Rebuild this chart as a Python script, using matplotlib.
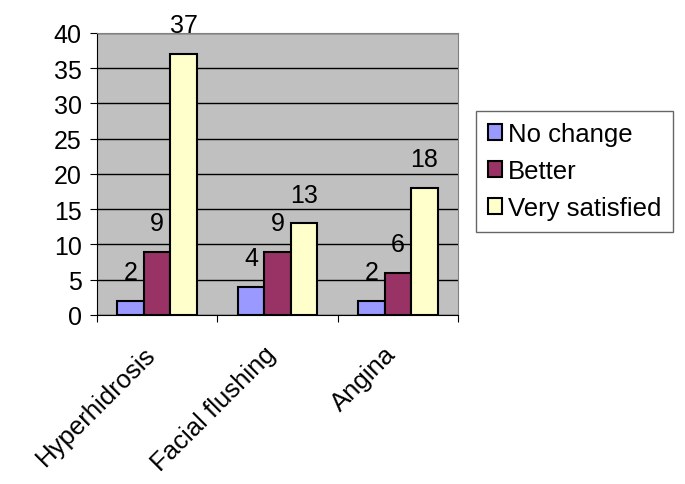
import numpy as np
import matplotlib
matplotlib.use("Agg")
from matplotlib import pyplot as plt
from matplotlib.transforms import ScaledTranslation

plt.rcParams['font.family'] = ['Liberation Sans', 'DejaVu Sans']

categories = ['Hyperhidrosis', 'Facial flushing', 'Angina']
series = ['No change', 'Better', 'Very satisfied']
no_change = [2, 4, 2]
better = [9, 9, 6]
very_satisfied = [37, 13, 18]
colors = ['#9999FF', '#993366', '#FFFFCC']

fig = plt.figure(figsize=(6.85, 4.85), dpi=100)
ax = fig.add_axes([0.1416, 0.3485, 0.527, 0.5814])
ax.set_facecolor('#C0C0C0')

x = np.arange(len(categories))
w = 0.22
for i, (vals, name) in enumerate(zip([no_change, better, very_satisfied], series)):
    pos = x + (i - 1) * w
    bars = ax.bar(pos, vals, w, color=colors[i], edgecolor='black', linewidth=1.5,
                  label=name, zorder=3)
    for b, v in zip(bars, vals):
        ax.annotate(str(v), (b.get_x() + b.get_width() / 2, v),
                    xytext=(0, 12), textcoords='offset points',
                    ha='center', va='bottom', fontsize=18, zorder=4,
                    annotation_clip=False)

ax.set_xlim(-0.5, 2.5)
ax.set_ylim(0, 40)
ax.set_yticks(range(0, 41, 5))
ax.yaxis.grid(True, color='black', linewidth=1)
ax.set_axisbelow(True)
ax.tick_params(axis='y', labelsize=18, length=5, direction='out', pad=6)

ax.set_xticks([-0.5, 0.5, 1.5, 2.5])
ax.set_xticklabels([])
ax.set_xticks(x, minor=True)
ax.set_xticklabels(categories, minor=True, rotation=45, ha='right',
                   rotation_mode='anchor', fontsize=18.5)
ax.tick_params(axis='x', which='minor', length=0, pad=19)
ax.tick_params(axis='x', which='major', length=5)
shift = ScaledTranslation(-10 / 72, 0, fig.dpi_scale_trans)
for lbl in ax.get_xticklabels(minor=True):
    lbl.set_transform(lbl.get_transform() + shift)

for s in ['top', 'right']:
    ax.spines[s].set_color('#808080')
for s in ['left', 'bottom']:
    ax.spines[s].set_color('black')

leg = ax.legend(loc='center left', bbox_to_anchor=(1.05, 0.51), fontsize=18.5,
                frameon=True, fancybox=False, edgecolor='#404040',
                handlelength=0.55, handleheight=0.55, handletextpad=0.25,
                labelspacing=0.5, borderpad=0.45, borderaxespad=0)
leg.get_frame().set_linewidth(1)

fig.savefig('out.png', dpi=100)
